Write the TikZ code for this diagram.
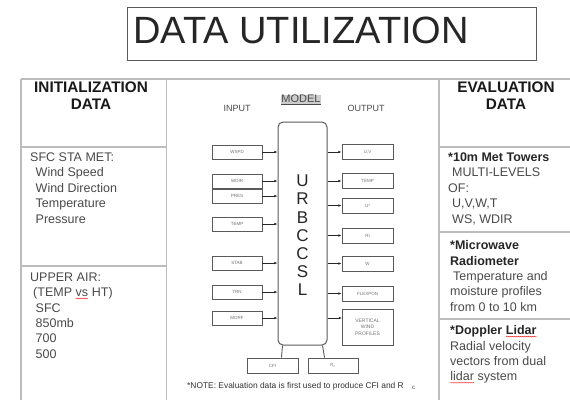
\documentclass[tikz,border=0pt]{standalone}
\usepackage{fontspec}
\setmainfont{Liberation Sans}
\usetikzlibrary{arrows.meta,decorations.pathmorphing}
\definecolor{txt}{HTML}{4A4A4A}
\definecolor{gridc}{HTML}{BDBDBD}
\definecolor{boxc}{HTML}{5A5A5A}
\newcommand\spellerr[1]{\tikz[baseline=(se.base)]{\node[inner sep=0pt,outer sep=0pt,anchor=base](se){#1};\draw[red,line width=0.35pt,decorate,decoration={snake,amplitude=0.45pt,segment length=2pt}]([yshift=-1.8pt]se.base west)--([yshift=-1.8pt]se.base east);}}
\tikzset{
  gridline/.style={draw=gridc,line width=1.4pt},
  coltext/.style={anchor=north west,inner sep=0pt,align=left,text=txt,font=\fontsize{12.5}{15.4}\selectfont},
  header/.style={inner sep=0pt,align=center,font=\bfseries\fontsize{15.3}{17}\selectfont,text=black!90},
  smallbox/.style={draw=boxc,line width=0.9pt,minimum width=50pt,minimum height=14pt,inner sep=0pt,text=black!55,font=\fontsize{4.5}{5.2}\selectfont,align=center},
  arr/.style={draw=black!85,line width=0.7pt,-{Latex[length=3.2pt,width=2.6pt]}},
  lab/.style={inner sep=0pt,text=txt,font=\fontsize{9}{10}\selectfont},
}
\begin{document}
\begin{tikzpicture}[x=1pt,y=-1pt]
\useasboundingbox (0,0) rectangle (570,400);
\fill[white] (0,0) rectangle (570,400);
% title
\node[draw=boxc,line width=0.9pt,minimum width=409pt,minimum height=53pt,inner sep=0pt] (titlebox) at (331.5,33.5) {};
\node[anchor=base west,inner sep=0pt,font=\fontsize{38}{44}\selectfont,text=black!85] (title) at (133,43.5) {DATA UTILIZATION};
% table grid
\coordinate (tl) at (21,79);
\coordinate (tr) at (570,79);
\draw[gridline] (tl) -- (tr);
\draw[gridline] (21,79) -- (21,400);
\draw[gridline] (166.5,79) -- (166.5,400);
\draw[gridline] (439,79) -- (439,400);
\draw[gridline] (21,147) -- (166.5,147);
\draw[gridline] (21,266) -- (166.5,266);
\draw[gridline] (439,147) -- (570,147);
\draw[gridline] (439,232) -- (570,232);
\draw[gridline] (439,319) -- (570,319);
% headers
\node[header] (inith) at (91,95.5) {INITIALIZATION\\DATA};
\node[header] (evalh) at (506,95.5) {EVALUATION\\DATA};
% left column
\node[coltext] (sfc) at (30,152.5) {SFC STA MET:\\\hspace*{5.5pt}Wind Speed\\\hspace*{5.5pt}Wind Direction\\\hspace*{5.5pt}Temperature\\\hspace*{5.5pt}Pressure};
\node[coltext] (upper) at (30,272.5) {UPPER AIR:\\\hspace*{3pt}(TEMP \spellerr{vs} HT)\\\hspace*{5.5pt}SFC\\\hspace*{5.5pt}850mb\\\hspace*{5.5pt}700\\\hspace*{5.5pt}500};
% right column
\node[coltext] (towers) at (448,152.5) {\textbf{\textcolor{black!85}{*10m Met Towers}}\\\hspace*{4pt}MULTI-LEVELS\\OF:\\\hspace*{4pt}U,V,W,T\\\hspace*{4pt}WS, WDIR};
\node[coltext] (micro) at (450,240.5) {\textbf{\textcolor{black!85}{*Microwave}}\\\textbf{\textcolor{black!85}{Radiometer}}\\\hspace*{3pt}Temperature and\\moisture profiles\\from 0 to 10 km};
\node[coltext] (lidar) at (450,325.5) {\textbf{\textcolor{black!85}{*Doppler \spellerr{Lidar}}}\\Radial velocity\\vectors from dual\\\spellerr{lidar} system};
% middle column
\node[lab] (input) at (237,108) {INPUT};
\node[lab] (output) at (366,108) {OUTPUT};
\node[lab,fill=black!20,inner sep=0.6pt,font=\fontsize{11}{12}\selectfont] (modell) at (301,100) {\underline{MODEL}};
\node[draw=boxc,line width=1pt,rounded corners=5pt,minimum width=49pt,minimum height=223pt,inner sep=0pt] (model) at (302.5,233.5) {};
\node[inner sep=0pt,align=center,font=\fontsize{17}{18.2}\selectfont,text=black!85] (urb) at (302.5,235.5) {U\\R\\B\\C\\C\\S\\L};
% inputs
\node[smallbox] (wspd) at (237,152) {WSPD};
\node[smallbox] (wdir) at (237,181) {WDIR};
\node[smallbox] (pres) at (237,196) {PRES};
\node[smallbox] (tempin) at (237,224) {TEMP};
\node[smallbox] (stab) at (237,263) {STAB};
\node[smallbox] (trn) at (237,292) {TRN};
\node[smallbox] (morf) at (237,318) {MORF};
\foreach \n in {wspd,wdir,pres,tempin,stab,trn,morf}
  \draw[arr] (\n.east) -- (\n.east -| model.west);
% outputs
\node[smallbox,minimum height=15pt,minimum width=51pt] (uv) at (367.5,152) {U,V};
\node[smallbox,minimum height=15pt,minimum width=51pt] (tempout) at (367.5,181) {TEMP};
\node[smallbox,minimum height=15pt,minimum width=51pt] (ustar) at (367.5,205.5) {U*};
\node[smallbox,minimum height=15pt,minimum width=51pt] (ri) at (367.5,235.5) {RI};
\node[smallbox,minimum height=15pt,minimum width=51pt] (w) at (367.5,263.5) {W};
\node[smallbox,minimum height=15pt,minimum width=51pt] (flex) at (367.5,293.5) {FLEXPON};
\node[smallbox,minimum height=36pt,minimum width=51pt,font=\fontsize{5}{6.5}\selectfont] (vwp) at (367.5,327) {VERTICAL\\WIND\\PROFILES};
\foreach \n in {uv,tempout,ustar,ri,w,flex}
  \draw[arr] (\n.west -| model.east) -- (\n.west);
\coordinate (vwpin) at (342,318);
\draw[arr] (vwpin -| model.east) -- (vwpin);
% bottom boxes
\node[smallbox,minimum width=51pt,minimum height=15pt] (cfi) at (272.5,365.5) {CFI};
\node[smallbox,minimum width=50pt,minimum height=15pt] (rc) at (333,365.5) {R$_{\mathrm{c}}$};
\draw[draw=boxc,line width=0.9pt] ([xshift=5pt]model.south west) -- ([xshift=-17pt]cfi.north east);
\draw[draw=boxc,line width=0.9pt] ([xshift=-5pt]model.south east) -- ([xshift=17pt]rc.north west);
% note
\node[anchor=base west,inner sep=0pt,font=\fontsize{8.4}{9}\selectfont,text=black!80] (note) at (187,388) {*NOTE: Evaluation data is first used to produce CFI and R};
\node[anchor=base west,inner sep=0pt,font=\fontsize{6}{7}\selectfont,text=black!70] (notec) at (412,389.5) {c};
\end{tikzpicture}
\end{document}
